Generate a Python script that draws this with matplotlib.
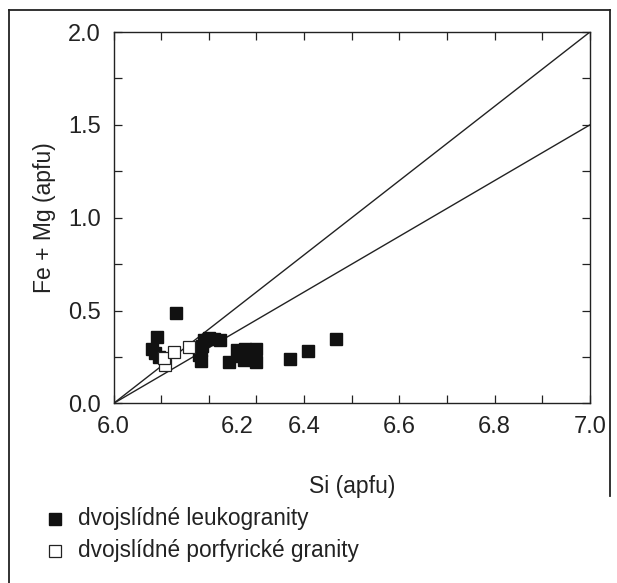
import matplotlib
matplotlib.use('Agg')
import matplotlib.pyplot as plt
import matplotlib.transforms as mtransforms

plt.rcParams['font.family'] = ['Liberation Sans', 'DejaVu Sans']

# dvojslidne leukogranity (filled squares)
leuko_si = [6.131, 6.092, 6.080, 6.088, 6.095, 6.183, 6.183, 6.179, 6.190, 6.200, 6.210,
            6.224, 6.186, 6.242, 6.259, 6.266, 6.273, 6.277, 6.290, 6.300, 6.300, 6.371,
            6.408, 6.467]
leuko_femg = [0.489, 0.357, 0.293, 0.270, 0.250, 0.227, 0.289, 0.262, 0.343, 0.352, 0.345,
              0.339, 0.310, 0.221, 0.286, 0.254, 0.236, 0.293, 0.289, 0.293, 0.221, 0.241,
              0.284, 0.348]

# dvojslidne porfyricke granity (open squares)
porf_si = [6.109, 6.106, 6.128, 6.158]
porf_femg = [0.209, 0.245, 0.277, 0.304]

# reference lines from (6.0, 0)
line_x = [6.0, 7.0]
line_steep = [0.0, 2.0]
line_flat = [0.0, 1.5]

fig = plt.figure(figsize=(6.17, 5.83), dpi=100)
ax = fig.add_axes([0.184, 0.308, 0.772, 0.637])

ax.plot(line_x, line_steep, color='#222222', lw=1.0)
ax.plot(line_x, line_flat, color='#222222', lw=1.0)
ax.plot(leuko_si, leuko_femg, 's', ms=8.5, color='#111111', mec='#111111', ls='none')
ax.plot(porf_si, porf_femg, 's', ms=8.5, mfc='white', mec='#222222', mew=0.9, ls='none')

ax.set_xlim(6.0, 7.0)
ax.set_ylim(0.0, 2.0)
ax.set_xticks([6.0 + 0.1 * i for i in range(11)])
ax.set_xticklabels(['' if i % 2 else f'{6.0 + 0.1 * i:.1f}' for i in range(11)])
ax.set_yticks([0.25 * i for i in range(9)])
ax.set_yticklabels([f'{0.25 * i:.1f}' if i % 2 == 0 else '' for i in range(9)])
ax.tick_params(direction='in', length=6, width=0.9, top=True, right=True,
               labelsize=17, pad=9, colors='#222222')
for sp in ax.spines.values():
    sp.set_linewidth(1.0)
    sp.set_color('#222222')

# the 6.2 label sits shifted right in the original figure
for lab in ax.get_xticklabels():
    if lab.get_text() == '6.2':
        lab.set_transform(lab.get_transform() +
                          mtransforms.ScaledTranslation(0.28, 0, fig.dpi_scale_trans))

ax.set_ylabel('Fe + Mg (apfu)', fontsize=16.5, color='#222222', labelpad=9)
fig.text(0.570, 0.166, 'Si (apfu)', fontsize=16.5, color='#222222', ha='center', va='center')

# legend drawn by hand below the axes
fig.lines.append(plt.Line2D([0.089], [0.110], marker='s', ms=8.6, color='#111111',
                            transform=fig.transFigure, figure=fig))
fig.lines.append(plt.Line2D([0.089], [0.055], marker='s', ms=8.6, mfc='white', mec='#222222',
                            mew=0.9, transform=fig.transFigure, figure=fig))
fig.text(0.126, 0.110, 'dvojslídné leukogranity', fontsize=16.3, color='#222222', va='center')
fig.text(0.126, 0.055, 'dvojslídné porfyrické granity', fontsize=16.3, color='#222222', va='center')

# outer frame (top, left, right part)
fig.lines.append(plt.Line2D([0.015, 0.015], [0.0, 0.983], color='#222222', lw=1.3,
                            transform=fig.transFigure, figure=fig))
fig.lines.append(plt.Line2D([0.015, 0.988], [0.983, 0.983], color='#222222', lw=1.3,
                            transform=fig.transFigure, figure=fig))
fig.lines.append(plt.Line2D([0.988, 0.988], [0.983, 0.15], color='#222222', lw=1.3,
                            transform=fig.transFigure, figure=fig))

fig.savefig('out.png', dpi=100)
